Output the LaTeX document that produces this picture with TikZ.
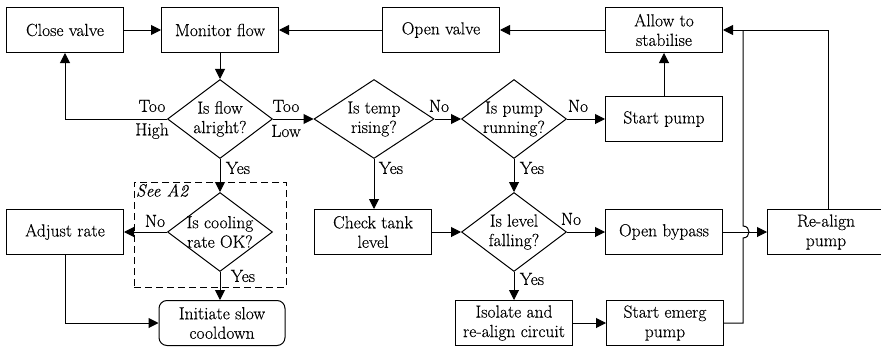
\documentclass[tikz,border=0pt]{standalone}
\usepackage{fontspec}
\newfontfamily\flowfont{Latin Modern Roman}[FakeBold=0.3]
\usetikzlibrary{shapes.geometric,arrows.meta}
\begin{document}
\begin{tikzpicture}[x=1pt,y=-1pt,
  font=\flowfont\fontsize{17.5}{19.5}\selectfont,
  line width=1pt,
  box/.style={draw, rectangle, minimum width=117pt, minimum height=45pt, align=center, inner sep=0pt},
  dia/.style={draw, diamond, minimum width=105pt, minimum height=79pt, inner sep=0pt},
  txt/.style={align=center, inner sep=0pt},
  lbl/.style={inner sep=0pt},
  arr/.style={-{Triangle[length=10pt,width=10pt]}}]
\useasboundingbox (0,0) rectangle (881,348);

% top row
\node[box] (cv) at (65,30) {Close valve};
\node[box] (mf) at (220,30) {Monitor flow};
\node[box] (ov) at (441,30) {Open valve};
\node[box] (as) at (664,30) {Allow to\\stabilise};

% decision row
\node[dia] (qf) at (220,119) {};
\node[txt] at (qf) {Is flow\\alright?};
\node[dia, minimum width=120pt] (qt) at (374,119) {};
\node[txt] at (qt) {Is temp\\rising?};
\node[dia] (qp) at (514,119) {};
\node[txt] at (qp) {Is pump\\running?};
\node[box] (sp) at (664,119) {Start pump};

% third row
\node[draw, dashed, dash pattern=on 7pt off 4pt, minimum width=152pt, minimum height=105pt, inner sep=0pt] (a2) at (210,234.5) {};
\node[anchor=north west, inner sep=2pt] at (a2.north west) {\itshape See A2};
\node[box] (ar) at (65,232) {Adjust rate};
\node[dia] (qc) at (220,232) {};
\node[txt] at (qc) {Is cooling\\rate OK?};
\node[box] (ct) at (373,232) {Check tank\\level};
\node[dia] (ql) at (514,232) {};
\node[txt] at (ql) {Is level\\falling?};
\node[box] (ob) at (664,232) {Open bypass};
\node[box] (rp) at (826,232) {Re-align\\pump};

% bottom row
\node[box, rounded corners=8pt, minimum width=126pt] (sc) at (222,323) {Initiate slow\\cooldown};
\node[box] (ic) at (514,323) {Isolate and\\re-align circuit};
\node[box] (se) at (665,323) {Start emerg\\pump};

% connectors
\draw[arr] (cv) -- (mf);
\draw[arr] (ov) -- (mf);
\draw[arr] (as) -- (ov);
\draw[arr] (mf) -- (qf);
\draw[arr] (qf.west) -| (cv.south);
\draw[arr] (qf.east) -- (qt.west);
\draw[arr] (qt.east) -- (qp.west);
\draw[arr] (qp.east) -- (sp.west);
\draw[arr] (sp) -- (as);
\draw[arr] (qf.south) -- (qc.north);
\draw[arr] (qc.west) -- (ar.east);
\draw[arr] (qc.south) -- (qc.south |- sc.north);
\draw[arr] (ar.south) |- (sc.west);
\draw[arr] (qt.south) -- (qt.south |- ct.north);
\draw[arr] (qp.south) -- (ql.north);
\draw[arr] (ct.east) -- (ql.west);
\draw[arr] (ql.east) -- (ob.west);
\draw[arr] (ql.south) -- (ic.north);
\draw[arr] (ic) -- (se);
\draw[arr] (ob) -- (rp);
\draw[arr] ([xshift=2pt]rp.north) |- (as.east);

% emergency pump return, hopping over the bypass line
\coordinate (jn) at (743,30);
\coordinate (hop) at (743,232);
\draw (se.east) -- (se.east -| jn) -- ([yshift=-6pt]hop)
  .. controls ([xshift=8pt,yshift=-6pt]hop) and ([xshift=8pt,yshift=6pt]hop) .. ([yshift=6pt]hop)
  -- (jn);

% branch labels
\node[lbl] at (152,106) {Too};
\node[lbl] at (152,131) {High};
\node[lbl] at (286,106) {Too};
\node[lbl] at (286,131) {Low};
\node[lbl] at (238,168) {Yes};
\node[lbl] at (155,221) {No};
\node[lbl] at (243,276) {Yes};
\node[lbl] at (439,106) {No};
\node[lbl] at (391,168) {Yes};
\node[lbl] at (578,106) {No};
\node[lbl] at (532,168) {Yes};
\node[lbl] at (571,219) {No};
\node[lbl] at (532,279) {Yes};
\end{tikzpicture}
\end{document}
